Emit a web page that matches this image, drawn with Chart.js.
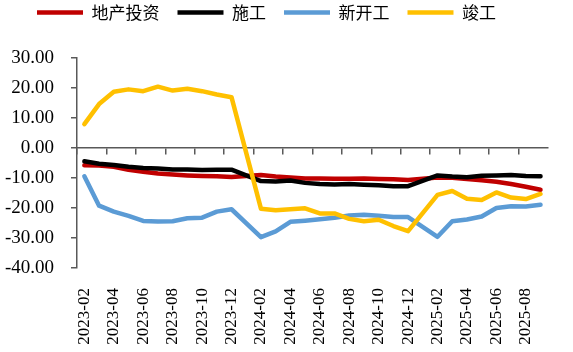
<!DOCTYPE html>
<html>
<head>
<meta charset="utf-8">
<script src="https://cdn.jsdelivr.net/npm/chart.js@4/dist/chart.umd.min.js"></script>
<style>
  html, body { margin: 0; padding: 0; background: #fff; }
  #wrap { width: 573px; height: 352px; }
</style>
</head>
<body>
<div id="wrap"><canvas id="myChart"></canvas></div>
<script>
// 月份（1月无数据，跳过连线）
const months = [
  '2023-02','2023-03','2023-04','2023-05','2023-06','2023-07','2023-08','2023-09','2023-10','2023-11','2023-12',
  '2024-01','2024-02','2024-03','2024-04','2024-05','2024-06','2024-07','2024-08','2024-09','2024-10','2024-11','2024-12',
  '2025-01','2025-02','2025-03','2025-04','2025-05','2025-06','2025-07','2025-08','2025-09'
];

// 累计同比（%）
const investment = [-5.7,-5.8,-6.2,-7.2,-7.9,-8.5,-8.8,-9.1,-9.3,-9.4,-9.6,
  null,-9.0,-9.5,-9.8,-10.1,-10.1,-10.2,-10.2,-10.1,-10.3,-10.4,-10.6,
  null,-9.8,-9.9,-10.3,-10.7,-11.2,-12.0,-12.9,-13.9];
const construction = [-4.4,-5.2,-5.6,-6.2,-6.6,-6.8,-7.1,-7.1,-7.3,-7.2,-7.2,
  null,-11.0,-11.1,-10.8,-11.6,-12.0,-12.1,-12.0,-12.2,-12.4,-12.7,-12.7,
  null,-9.1,-9.5,-9.7,-9.2,-9.1,-9.0,-9.3,-9.4];
const newStarts = [-9.4,-19.2,-21.2,-22.6,-24.3,-24.5,-24.4,-23.4,-23.2,-21.2,-20.4,
  null,-29.7,-27.8,-24.6,-24.2,-23.7,-23.2,-22.5,-22.2,-22.6,-23.0,-23.0,
  null,-29.6,-24.4,-23.8,-22.8,-20.0,-19.4,-19.5,-18.9];
const completions = [8.0,14.7,18.8,19.6,19.0,20.5,19.2,19.8,19.0,17.9,17.0,
  null,-20.2,-20.7,-20.4,-20.1,-21.8,-21.8,-23.6,-24.4,-23.9,-26.0,-27.7,
  null,-15.6,-14.3,-16.9,-17.3,-14.8,-16.5,-17.0,-15.3];

const yMin = -40, yMax = 30, yStep = 10;

const axisColor = '#595959';
const serif = '"Liberation Serif", "Times New Roman", serif';

function line(label, data, color, order) {
  return {
    label: label,
    data: data,
    borderColor: color,
    backgroundColor: color,
    borderWidth: 4.5,
    borderCapStyle: 'round',
    borderJoinStyle: 'round',
    pointRadius: 0,
    tension: 0,
    spanGaps: true,
    order: order
  };
}

// 图例整体右移一点
const legendShift = {
  id: 'legendShift',
  afterLayout(chart) {
    chart.legend.left += 19;
  }
};

const ctx = document.getElementById('myChart').getContext('2d');
new Chart(ctx, {
  type: 'line',
  data: {
    labels: months,
    datasets: [
      line('地产投资', investment, '#C00000', 4),
      line('施工', construction, '#000000', 3),
      line('新开工', newStarts, '#5B9BD5', 2),
      line('竣工', completions, '#FFC000', 1)
    ]
  },
  options: {
    responsive: true,
    maintainAspectRatio: false,
    animation: false,
    layout: {
      padding: { top: -14, right: 5, bottom: 0, left: 0 }
    },
    scales: {
      x: {
        type: 'category',
        offset: true,
        grid: { display: false },
        border: { display: false },
        ticks: {
          autoSkip: false,
          minRotation: 90,
          maxRotation: 90,
          padding: 12,
          color: '#000',
          font: { family: serif, size: 17 },
          callback: function(value, index) {
            return index % 2 === 0 ? this.getLabelForValue(value) : '';
          }
        },
        afterFit: (scale) => { scale.height = 84; }
      },
      // 0轴及刻度线
      x0: {
        type: 'category',
        position: { y: 0 },
        offset: true,
        grid: {
          offset: true,
          drawOnChartArea: false,
          drawTicks: true,
          tickLength: 6,
          lineWidth: 1.5,
          color: (c) => (c.index % 2 === 0 ? axisColor : 'rgba(0,0,0,0)')
        },
        border: { display: true, color: axisColor, width: 1.5 },
        ticks: { display: false, autoSkip: false }
      },
      y: {
        min: yMin,
        max: yMax,
        grid: {
          drawOnChartArea: false,
          drawTicks: true,
          tickLength: 6,
          lineWidth: 1.5,
          color: axisColor
        },
        border: { display: true, color: axisColor, width: 1.5 },
        ticks: {
          stepSize: yStep,
          padding: 17,
          color: '#000',
          font: { family: serif, size: 19 },
          callback: (v) => v.toFixed(2)
        },
        afterFit: (scale) => { scale.width = 77; }
      }
    },
    plugins: {
      legend: {
        position: 'top',
        align: 'start',
        labels: {
          usePointStyle: true,
          pointStyle: 'line',
          pointStyleWidth: 46,
          boxHeight: 5,
          padding: 18,
          color: '#000',
          font: { family: '"Noto Sans CJK SC", sans-serif', size: 17 },
          sort: (a, b) => a.datasetIndex - b.datasetIndex
        }
      },
      // 图例与绘图区之间的留白
      title: {
        display: true,
        text: '',
        weight: 500,
        font: { size: 1 },
        padding: { top: 0, bottom: 26 }
      },
      tooltip: { enabled: false }
    }
  },
  plugins: [legendShift]
});
</script>
</body>
</html>
